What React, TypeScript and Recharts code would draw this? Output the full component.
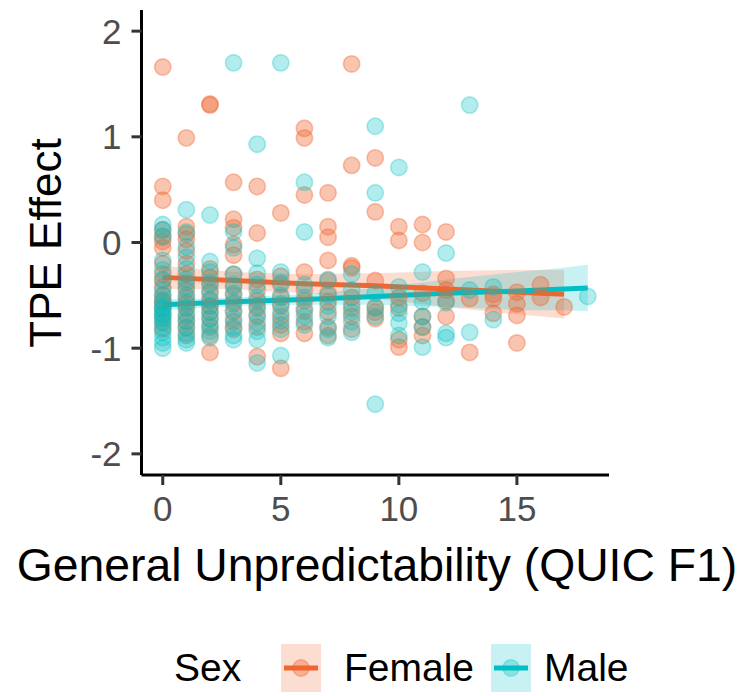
import React from 'react';
import { ComposedChart, Scatter, Area, Line, XAxis, YAxis, Legend } from 'recharts';

const FONT = '"Liberation Sans", Arial, Helvetica, sans-serif';
const FEMALE = '#F06631';
const MALE = '#00BFC4';

const xTicks = [0, 5, 10, 15];
const yTicks = [-2, -1, 0, 1, 2];
const groups = ['Female', 'Male'];

// Individual observations, grouped by x value: [x, [y values]]
const femaleColumns: [number, number[]][] = [
  [0, [1.66, 0.53, 0.4, 0.12, 0.06, 0.01, -0.05, -0.2, -0.3, -0.36, -0.42, -0.5, -0.55, -0.57, -0.62, -0.68, -0.75, -0.82]],
  [1, [0.99, 0.15, 0.08, 0.03, -0.08, -0.2, -0.3, -0.38, -0.45, -0.52, -0.58, -0.62, -0.7, -0.75, -0.81, -0.88]],
  [2, [1.31, 1.3, -0.25, -0.33, -0.4, -0.48, -0.55, -0.6, -0.66, -0.72, -0.8, -0.88, -1.04]],
  [3, [0.57, 0.22, 0.14, -0.02, -0.12, -0.3, -0.42, -0.5, -0.58, -0.66, -0.75, -0.82]],
  [4, [0.53, 0.09, -0.35, -0.45, -0.55, -0.62, -0.7, -0.8, -1.08]],
  [5, [0.28, -0.32, -0.4, -0.52, -0.6, -0.7, -0.78, -0.86, -1.19]],
  [6, [1.08, 0.99, 0.45, -0.28, -0.45, -0.55, -0.65, -0.75, -0.86]],
  [7, [0.47, 0.15, 0.05, -0.17, -0.36, -0.48, -0.56, -0.66, -0.8, -0.88]],
  [8, [1.69, 0.73, -0.22, -0.24, -0.52, -0.62, -0.7, -0.82]],
  [9, [0.8, 0.29, -0.36, -0.61, -0.66, -0.72]],
  [10, [0.15, 0.02, -0.52, -0.62, -0.92, -0.99]],
  [11, [0.17, 0.0, -0.48, -0.7, -0.8, -0.88]],
  [12, [0.1, -0.34, -0.45, -0.55, -0.7]],
  [13, [-0.53, -1.04]],
  [14, [-0.49, -0.53, -0.67]],
  [15, [-0.47, -0.58, -0.69, -0.95]],
  [16, [-0.4, -0.52]],
  [17, [-0.61]],
];

const maleColumns: [number, number[]][] = [
  [0, [0.17, 0.12, 0.05, -0.17, -0.26, -0.35, -0.45, -0.5, -0.55, -0.6, -0.62, -0.64, -0.68, -0.7, -0.72, -0.76, -0.8, -0.85, -0.9, -0.95, -1.0]],
  [1, [0.31, 0.1, -0.04, -0.14, -0.25, -0.35, -0.42, -0.5, -0.56, -0.62, -0.68, -0.74, -0.8, -0.86, -0.92, -0.95]],
  [2, [0.26, -0.18, -0.28, -0.38, -0.46, -0.54, -0.6, -0.66, -0.72, -0.78, -0.84, -0.9]],
  [3, [1.7, 0.1, -0.05, -0.3, -0.4, -0.48, -0.56, -0.64, -0.72, -0.8, -0.88, -0.92]],
  [4, [0.93, -0.15, -0.29, -0.4, -0.52, -0.6, -0.68, -0.76, -0.84, -0.92, -1.14]],
  [5, [1.7, -0.28, -0.38, -0.5, -0.58, -0.66, -0.74, -0.82, -1.07]],
  [6, [0.57, 0.1, -0.4, -0.52, -0.62, -0.7, -0.78]],
  [7, [-0.35, -0.5, -0.6, -0.7, -0.82, -0.9]],
  [8, [-0.3, -0.45, -0.58, -0.66, -0.75, -0.85]],
  [9, [1.1, 0.47, -0.48, -0.62, -0.7, -1.53]],
  [10, [0.71, -0.42, -0.59, -0.67, -0.76, -0.88]],
  [11, [-0.28, -0.56, -0.7, -0.8, -0.99]],
  [12, [-0.1, -0.57, -0.86, -0.9]],
  [13, [1.3, -0.45, -0.85]],
  [14, [-0.42, -0.73]],
  [18, [-0.51]],
];

// Fitted linear trend with 95% confidence band
const fitX = [0, 3, 6, 9, 12, 15, 17, 18];
const femaleFit = [-0.33, -0.36, -0.39, -0.41, -0.44, -0.47, -0.49, null];
const femaleLo = [-0.44, -0.44, -0.48, -0.53, -0.61, -0.68, -0.72, null];
const femaleHi = [-0.22, -0.28, -0.3, -0.29, -0.27, -0.26, -0.26, null];
const maleFit = [-0.59, -0.56, -0.54, -0.51, -0.48, -0.46, -0.44, -0.43];
const maleLo = [-0.64, -0.6, -0.59, -0.59, -0.61, -0.64, -0.64, -0.65];
const maleHi = [-0.54, -0.52, -0.49, -0.43, -0.35, -0.28, -0.24, -0.21];

const fitRows = fitX.map((x, i) => ({
  x,
  fFit: femaleFit[i],
  fBand: femaleFit[i] == null ? null : [femaleLo[i], femaleHi[i]],
  mFit: maleFit[i],
  mBand: maleFit[i] == null ? null : [maleLo[i], maleHi[i]],
}));

const flatten = (cols: [number, number[]][]) =>
  cols.flatMap(([x, ys]) => ys.map((y) => ({ x, y })));

const femalePts = flatten(femaleColumns);
const malePts = flatten(maleColumns);

const makeDot = (color: string, alpha: number) => (props: any) => {
  if (props.cx == null || props.cy == null) return <g />;
  return (
    <circle
      cx={props.cx}
      cy={props.cy}
      r={8.2}
      fill={color}
      fillOpacity={alpha}
      stroke={color}
      strokeOpacity={alpha}
      strokeWidth={1.6}
    />
  );
};

const XLabel = () => (
  <text x={377} y={581} textAnchor="middle" fontSize={46.3} fontFamily={FONT} fill="#000">
    General Unpredictability (QUIC F1)
  </text>
);

const YLabel = () => (
  <text
    x={0}
    y={0}
    transform="translate(61,243) rotate(-90)"
    textAnchor="middle"
    fontSize={44}
    fontFamily={FONT}
    fill="#000"
  >
    TPE Effect
  </text>
);

const Swatch = ({ color, alpha }: { color: string; alpha: number }) => (
  <svg width={40} height={48} style={{ display: 'block' }}>
    <rect x={0} y={0} width={40} height={48} fill={color} fillOpacity={0.22} />
    <line x1={3} x2={37} y1={24} y2={24} stroke={color} strokeWidth={5} />
    <circle cx={20} cy={24} r={8.2} fill={color} fillOpacity={alpha} stroke={color} strokeOpacity={alpha} strokeWidth={1.6} />
  </svg>
);

const LegendContent = () => (
  <div style={{ position: 'relative', width: 743, height: 50, fontFamily: FONT, fontSize: 39, color: '#000' }}>
    <span style={{ position: 'absolute', left: 174, top: 0, lineHeight: '50px' }}>Sex</span>
    <div style={{ position: 'absolute', left: 281, top: 1 }}>
      <Swatch color={FEMALE} alpha={0.38} />
    </div>
    <span style={{ position: 'absolute', left: 344, top: 0, lineHeight: '50px' }}>{groups[0]}</span>
    <div style={{ position: 'absolute', left: 491, top: 1 }}>
      <Swatch color={MALE} alpha={0.3} />
    </div>
    <span style={{ position: 'absolute', left: 544, top: 0, lineHeight: '50px' }}>{groups[1]}</span>
  </div>
);

const tickStyle = { fill: '#4D4D4D', fontSize: 35, fontFamily: FONT };

export default function App() {
  return (
    <div style={{ position: 'absolute', left: 0, top: 0, width: 743, height: 696, background: '#fff' }}>
      <ComposedChart
        width={743}
        height={696}
        data={fitRows}
        margin={{ top: 10, right: 134, left: 0, bottom: 0 }}
      >
        <XAxis
          type="number"
          dataKey="x"
          domain={[-0.9, 18.9]}
          ticks={xTicks}
          allowDataOverflow
          height={221}
          tickSize={10}
          tickMargin={11}
          tick={tickStyle}
          axisLine={{ stroke: '#000', strokeWidth: 3 }}
          tickLine={{ stroke: '#333', strokeWidth: 3 }}
          label={{ content: XLabel }}
        />
        <YAxis
          type="number"
          domain={[-2.2, 2.2]}
          ticks={yTicks}
          allowDataOverflow
          width={141.5}
          tickSize={10}
          tickMargin={10}
          tick={tickStyle}
          axisLine={{ stroke: '#000', strokeWidth: 3 }}
          tickLine={{ stroke: '#333', strokeWidth: 3 }}
          label={{ content: YLabel }}
        />
        <Scatter
          name="Female"
          data={femalePts}
          dataKey="y"
          shape={makeDot(FEMALE, 0.38)}
          isAnimationActive={false}
          legendType="none"
        />
        <Scatter
          name="Male"
          data={malePts}
          dataKey="y"
          shape={makeDot(MALE, 0.3)}
          isAnimationActive={false}
          legendType="none"
        />
        <Area
          dataKey="fBand"
          stroke="none"
          fill={FEMALE}
          fillOpacity={0.22}
          isAnimationActive={false}
          legendType="none"
          type="linear"
        />
        <Line
          dataKey="fFit"
          stroke={FEMALE}
          strokeWidth={5}
          dot={false}
          activeDot={false}
          isAnimationActive={false}
          legendType="none"
          type="linear"
        />
        <Area
          dataKey="mBand"
          stroke="none"
          fill={MALE}
          fillOpacity={0.22}
          isAnimationActive={false}
          legendType="none"
          type="linear"
        />
        <Line
          dataKey="mFit"
          stroke={MALE}
          strokeWidth={5}
          dot={false}
          activeDot={false}
          isAnimationActive={false}
          legendType="none"
          type="linear"
        />
        <Legend
          layout="horizontal"
          verticalAlign="middle"
          align="center"
          content={LegendContent}
          wrapperStyle={{ left: 0, top: 643, width: 743, height: 50 }}
        />
      </ComposedChart>
    </div>
  );
}
